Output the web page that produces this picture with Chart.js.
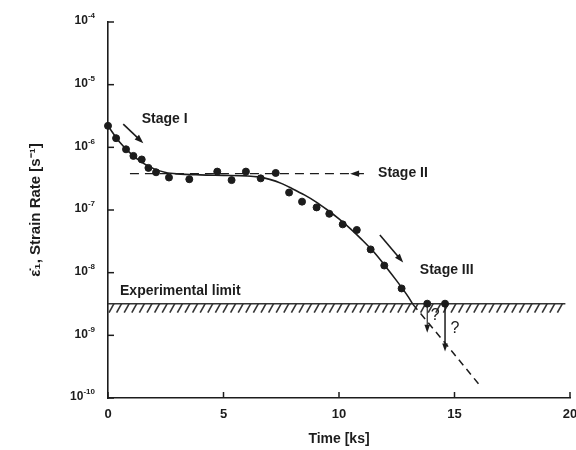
<!DOCTYPE html>
<html>
<head>
<meta charset="utf-8">
<script src="https://cdn.jsdelivr.net/npm/chart.js@4.4.0/dist/chart.umd.min.js"></script>
<style>
  body { margin: 0; background: #fff; }
</style>
</head>
<body>
<canvas id="canvas" width="576" height="450"></canvas>
<script>
// measured creep points (time in ks, strain rate in 1/s)
var timeKs = [0.0, 0.35, 0.78, 1.10, 1.46, 1.75, 2.08, 2.64, 3.52, 4.73, 5.35, 5.97, 6.61, 7.26,
  7.84, 8.40, 9.03, 9.58, 10.16, 10.77, 11.37, 11.96, 12.71, 13.82, 14.59];
var strainRate = [2.2e-6, 1.4e-6, 9.3e-7, 7.3e-7, 6.4e-7, 4.7e-7, 4.0e-7, 3.3e-7, 3.1e-7, 4.1e-7, 3.0e-7, 4.1e-7, 3.2e-7, 3.9e-7,
  1.9e-7, 1.36e-7, 1.1e-7, 8.7e-8, 5.9e-8, 4.8e-8, 2.35e-8, 1.3e-8, 5.6e-9, 3.2e-9, 3.2e-9];

// fitted curve
var curveT = [0, 0.5, 1, 1.5, 2, 2.5, 3, 4, 5, 6, 6.5, 7, 7.5, 8, 8.5, 9, 9.5, 10, 10.5, 11, 11.5, 12, 12.5, 13, 13.2];
var curveRate = [2.19e-6, 1.22e-6, 7.85e-7, 5.64e-7, 4.53e-7, 3.98e-7, 3.77e-7, 3.63e-7, 3.57e-7, 3.5e-7, 3.38e-7,
  3.08e-7, 2.66e-7, 2.17e-7, 1.74e-7, 1.35e-7, 1.0e-7, 7.21e-8, 5.0e-8, 3.34e-8, 2.15e-8, 1.28e-8, 7.4e-9, 4.11e-9, 3.12e-9];

// dashed extrapolation below the limit
var extrapT = [13.2, 14.6, 16.1];
var extrapRate = [3.12e-9, 7.5e-10, 1.58e-10];

// stage II steady-state line
var stage2T = [0.95, 11.15];
var stage2Rate = [3.8e-7, 3.8e-7];

// experimental limit band
var limitT = [0, 19.8];
var limitRate = [3.2e-9, 2.3e-9];

// drops of the last two points below the limit
var dropT = [13.82, 14.59];
var dropTo = [1.1e-9, 5.5e-10];

var stageIArrow = [[0.66, 2.34e-6], [1.53, 1.16e-6]];
var stageIIIArrow = [[11.77, 4.0e-8], [12.78, 1.45e-8]];

var yTicks = [1e-4, 1e-5, 1e-6, 1e-7, 1e-8, 1e-9, 1e-10];
var yTickExp = ['-4', '-5', '-6', '-7', '-8', '-9', '-10'];
var xTicks = [0, 5, 10, 15, 20];

var ink = '#1c1c1c';
var family = "'Liberation Sans', Arial, Helvetica, sans-serif";

function pts(xs, ys) {
  var out = [];
  for (var i = 0; i < xs.length; i++) out.push({x: xs[i], y: ys[i]});
  return out;
}

function arrow(ctx, x1, y1, x2, y2, head) {
  var a = Math.atan2(y2 - y1, x2 - x1);
  var c = Math.cos(a), s = Math.sin(a);
  ctx.beginPath();
  ctx.moveTo(x1, y1);
  ctx.lineTo(x2 - c * head * 0.7, y2 - s * head * 0.7);
  ctx.stroke();
  ctx.beginPath();
  ctx.moveTo(x2, y2);
  ctx.lineTo(x2 - head * c + head * 0.35 * s, y2 - head * s - head * 0.35 * c);
  ctx.lineTo(x2 - head * c - head * 0.35 * s, y2 - head * s + head * 0.35 * c);
  ctx.closePath();
  ctx.fill();
}

var decor = {
  id: 'decor',
  beforeDatasetsDraw: function(chart) {
    var ctx = chart.ctx, x = chart.scales.x, y = chart.scales.y;
    var x0 = x.getPixelForValue(limitT[0]), x1 = x.getPixelForValue(limitT[1]);
    var top = y.getPixelForValue(limitRate[0]), bot = y.getPixelForValue(limitRate[1]);
    ctx.save();
    ctx.strokeStyle = '#333';
    ctx.lineWidth = 1.5;
    ctx.beginPath();
    ctx.moveTo(x0, top);
    ctx.lineTo(x1, top);
    ctx.stroke();
    ctx.lineWidth = 1.6;
    for (var px = x0 + 1; px < x1 - 5; px += 7.6) {
      ctx.beginPath();
      ctx.moveTo(px, bot);
      ctx.lineTo(px + 5, top);
      ctx.stroke();
    }
    ctx.restore();
  },
  afterDatasetsDraw: function(chart) {
    var ctx = chart.ctx, x = chart.scales.x, y = chart.scales.y;
    var area = chart.chartArea;
    ctx.save();
    ctx.strokeStyle = ink;
    ctx.fillStyle = ink;
    ctx.lineWidth = 1.5;

    // inward ticks
    yTicks.forEach(function(v) {
      var py = y.getPixelForValue(v);
      ctx.beginPath();
      ctx.moveTo(area.left, py);
      ctx.lineTo(area.left + 6, py);
      ctx.stroke();
    });
    xTicks.forEach(function(v) {
      var px = x.getPixelForValue(v);
      ctx.beginPath();
      ctx.moveTo(px, area.bottom);
      ctx.lineTo(px, area.bottom - 6);
      ctx.stroke();
    });

    // y tick labels 10^n
    ctx.textBaseline = 'middle';
    ctx.textAlign = 'left';
    yTicks.forEach(function(v, i) {
      var py = y.getPixelForValue(v) - 1;
      ctx.font = 'bold 8px ' + family;
      var ew = ctx.measureText(yTickExp[i]).width;
      ctx.font = 'bold 12px ' + family;
      var bw = ctx.measureText('10').width;
      var right = 95;
      ctx.fillText('10', right - ew - bw, py);
      ctx.font = 'bold 8px ' + family;
      ctx.fillText(yTickExp[i], right - ew, py - 5);
    });

    // stage arrows
    ctx.lineWidth = 1.6;
    arrow(ctx, x.getPixelForValue(stageIArrow[0][0]), y.getPixelForValue(stageIArrow[0][1]),
      x.getPixelForValue(stageIArrow[1][0]), y.getPixelForValue(stageIArrow[1][1]), 9);
    arrow(ctx, x.getPixelForValue(stageIIIArrow[0][0]), y.getPixelForValue(stageIIIArrow[0][1]),
      x.getPixelForValue(stageIIIArrow[1][0]), y.getPixelForValue(stageIIIArrow[1][1]), 9);
    var s2y = y.getPixelForValue(stage2Rate[0]);
    arrow(ctx, x.getPixelForValue(10.9), s2y, x.getPixelForValue(10.48), s2y, 9);

    // drops below the limit
    dropT.forEach(function(t, i) {
      var px = x.getPixelForValue(t);
      ctx.lineWidth = i === 0 ? 1.1 : 1.5;
      arrow(ctx, px, y.getPixelForValue(strainRate[strainRate.length - 2 + i]), px, y.getPixelForValue(dropTo[i]), 8);
    });

    // labels
    ctx.textAlign = 'left';
    ctx.textBaseline = 'middle';
    ctx.font = 'bold 14px ' + family;
    ctx.fillText('Stage I', x.getPixelForValue(1.46), y.getPixelForValue(2.8e-6));
    ctx.fillText('Stage II', x.getPixelForValue(11.69), y.getPixelForValue(3.9e-7));
    ctx.fillText('Stage III', x.getPixelForValue(13.5), y.getPixelForValue(1.1e-8));
    ctx.fillText('Experimental limit', x.getPixelForValue(0.52), y.getPixelForValue(5.1e-9));
    ctx.textAlign = 'center';
    ctx.font = '16px ' + family;
    ctx.fillText('?', x.getPixelForValue(14.16), y.getPixelForValue(2.1e-9));
    ctx.fillText('?', x.getPixelForValue(15.02), y.getPixelForValue(1.3e-9));
    ctx.restore();
  }
};

var ctx = document.getElementById('canvas').getContext('2d');
var chart = new Chart(ctx, {
  type: 'scatter',
  data: {
    datasets: [
      {
        label: 'measured',
        data: pts(timeKs, strainRate),
        pointRadius: 3.5,
        pointBackgroundColor: ink,
        pointBorderColor: ink,
        showLine: false,
        clip: false
      },
      {
        label: 'fit',
        data: pts(curveT, curveRate),
        showLine: true,
        pointRadius: 0,
        borderColor: ink,
        borderWidth: 1.6,
        cubicInterpolationMode: 'monotone'
      },
      {
        label: 'extrapolation',
        data: pts(extrapT, extrapRate),
        showLine: true,
        pointRadius: 0,
        borderColor: ink,
        borderWidth: 1.5,
        borderDash: [7, 5]
      },
      {
        label: 'stage II',
        data: pts(stage2T, stage2Rate),
        showLine: true,
        pointRadius: 0,
        borderColor: ink,
        borderWidth: 1.4,
        borderDash: [9, 6]
      }
    ]
  },
  options: {
    responsive: false,
    animation: false,
    layout: { padding: { left: 27, top: 22, right: 6, bottom: 0 } },
    plugins: { legend: { display: false }, tooltip: { enabled: false } },
    scales: {
      x: {
        type: 'linear',
        min: 0,
        max: 20,
        ticks: { stepSize: 5, color: ink, padding: 9, maxRotation: 0, font: { family: family, size: 13, weight: 'bold' } },
        grid: { display: false, drawTicks: false },
        border: { color: ink, width: 1.6 },
        title: { display: true, text: 'Time [ks]', color: ink, padding: { top: 0, bottom: 2 }, font: { family: family, size: 14, weight: 'bold' } },
        afterFit: function(s) { s.height = 52; s.paddingLeft = 0; s.paddingRight = 0; }
      },
      y: {
        type: 'logarithmic',
        min: 1e-10,
        max: 1e-4,
        ticks: { display: false },
        grid: { display: false, drawTicks: false },
        border: { color: ink, width: 1.6 },
        title: { display: true, text: 'ε̇\u2081, Strain Rate [s\u207B\u00B9]', color: ink, padding: { top: 0, bottom: 0 }, font: { family: family, size: 15, weight: 'bold' } },
        afterFit: function(s) { s.width = 81; s.paddingTop = 0; s.paddingBottom = 0; }
      }
    }
  },
  plugins: [decor]
});
</script>
</body>
</html>
